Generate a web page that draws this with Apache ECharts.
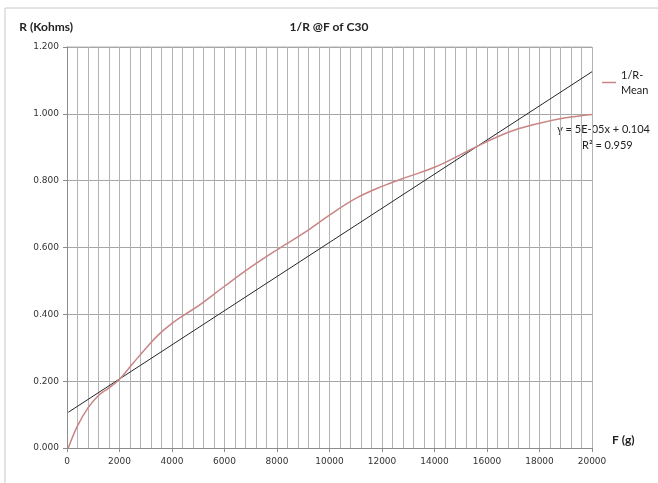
<!DOCTYPE html>
<html>
<head>
<meta charset="utf-8">
<script src="https://cdn.jsdelivr.net/npm/echarts@6/dist/echarts.min.js"></script>
<style>html,body{margin:0;padding:0;background:#fff;}#c{width:658px;height:483px;}</style>
</head>
<body>
<div id="c"></div>
<script>
// Data
var forceG = [50, 400, 800, 1200, 1600, 2000, 2500, 3000, 3500, 4000, 4500, 5000, 6000, 7000, 8000, 9000, 10000, 11000, 12000, 13000, 14000, 15000, 16000, 17000, 18000, 19000, 20000];
var invR = [0.000, 0.066, 0.120, 0.157, 0.180, 0.206, 0.252, 0.298, 0.340, 0.373, 0.400, 0.425, 0.484, 0.541, 0.593, 0.642, 0.697, 0.747, 0.783, 0.812, 0.840, 0.878, 0.917, 0.950, 0.972, 0.988, 0.998];
var trendX = [50, 20000];
var trendY = [0.107, 1.126];
var xTicks = [0, 2000, 4000, 6000, 8000, 10000, 12000, 14000, 16000, 18000, 20000];
var yTicks = [0, 0.2, 0.4, 0.6, 0.8, 1.0, 1.2];
var seriesName = '1/R-Mean';
var trendLabel1 = 'y = 5E-05x + 0.104';
var trendLabel2 = 'R² = 0.959';

var meanData = forceG.map(function (f, i) { return [f, invR[i]]; });
var trendData = trendX.map(function (f, i) { return [f, trendY[i]]; });

var chart = echarts.init(document.getElementById('c'), null, { renderer: 'canvas' });
var font = 'Lato, "Open Sans", sans-serif';
var tickFont = '"DejaVu Sans", sans-serif';
chart.setOption({
  backgroundColor: '#ffffff',
  animation: false,
  title: {
    text: '1/R @F of C30',
    left: 'center',
    top: 16,
    textStyle: { fontFamily: font, fontSize: 12, fontWeight: 'bold', color: '#222' }
  },
  legend: {
    data: [seriesName],
    left: 597,
    top: 55,
    itemWidth: 14,
    itemHeight: 1.5,
    itemGap: 4,
    icon: 'rect',
    formatter: function () { return '1/R-\nMean'; },
    textStyle: { fontFamily: font, fontSize: 11, color: '#222', lineHeight: 15, padding: [15, 0, 0, 0], align: 'left' }
  },
  grid: { left: 67, right: 66, top: 47, bottom: 35, containLabel: false, show: false },
  xAxis: {
    type: 'value',
    min: xTicks[0],
    max: xTicks[xTicks.length - 1],
    interval: 2000,
    name: 'F (g)',
    nameLocation: 'end',
    nameGap: 20,
    nameTextStyle: { fontFamily: font, fontSize: 12, fontWeight: 'bold', color: '#222', verticalAlign: 'bottom', padding: [0, 0, 2, 0] },
    axisLine: { show: true, lineStyle: { color: '#8c8c8c', width: 1 } },
    axisTick: { show: true, length: 4, lineStyle: { color: '#8c8c8c' } },
    minorTick: { show: false, splitNumber: 5 },
    axisLabel: { fontFamily: tickFont, fontSize: 9, color: '#333', margin: 9, formatter: function (v) { return String(v); } },
    splitLine: { show: true, lineStyle: { color: '#b4b4b4', width: 1 } },
    minorSplitLine: { show: true, lineStyle: { color: '#b4b4b4', width: 1 } }
  },
  yAxis: {
    type: 'value',
    min: yTicks[0],
    max: yTicks[yTicks.length - 1],
    interval: 0.2,
    name: 'R (Kohms)',
    nameLocation: 'end',
    nameGap: 14,
    nameTextStyle: { fontFamily: font, fontSize: 12, fontWeight: 'bold', color: '#222', align: 'right', padding: [0, -6, 0, 0] },
    axisLine: { show: true, lineStyle: { color: '#8c8c8c', width: 1 } },
    axisTick: { show: true, length: 4, lineStyle: { color: '#8c8c8c' } },
    axisLabel: {
      fontFamily: tickFont, fontSize: 9, color: '#333', margin: 8,
      formatter: function (v) { return v.toFixed(3); }
    },
    splitLine: { show: true, lineStyle: { color: '#a6a6a6', width: 1 } }
  },
  series: [
    {
      name: seriesName,
      type: 'line',
      data: meanData,
      smooth: 0.4,
      showSymbol: false,
      symbol: 'none',
      lineStyle: { color: '#c98584', width: 1.5 },
      itemStyle: { color: '#c98584' },
      z: 3
    },
    {
      name: 'Linear trend',
      type: 'line',
      data: trendData,
      showSymbol: false,
      symbol: 'none',
      lineStyle: { color: '#262626', width: 1 },
      itemStyle: { color: '#262626' },
      z: 2
    }
  ],
  graphic: [
    { type: 'line', shape: { x1: 5, y1: 8, x2: 658, y2: 8 }, style: { stroke: '#c8c8c8', lineWidth: 1 }, silent: true },
    { type: 'line', shape: { x1: 5, y1: 8, x2: 5, y2: 483 }, style: { stroke: '#c8c8c8', lineWidth: 1 }, silent: true },
    { type: 'line', shape: { x1: 67, y1: 47, x2: 592, y2: 47 }, style: { stroke: '#b4b4b4', lineWidth: 1 }, silent: true },
    { type: 'text', right: 8, top: 124, style: { text: trendLabel1, font: '11px Lato, "Open Sans", sans-serif', fill: '#222' } },
    { type: 'text', left: 582, top: 140, style: { text: trendLabel2, font: '11px Lato, "Open Sans", sans-serif', fill: '#222' } }
  ]
});
</script>
</body>
</html>
